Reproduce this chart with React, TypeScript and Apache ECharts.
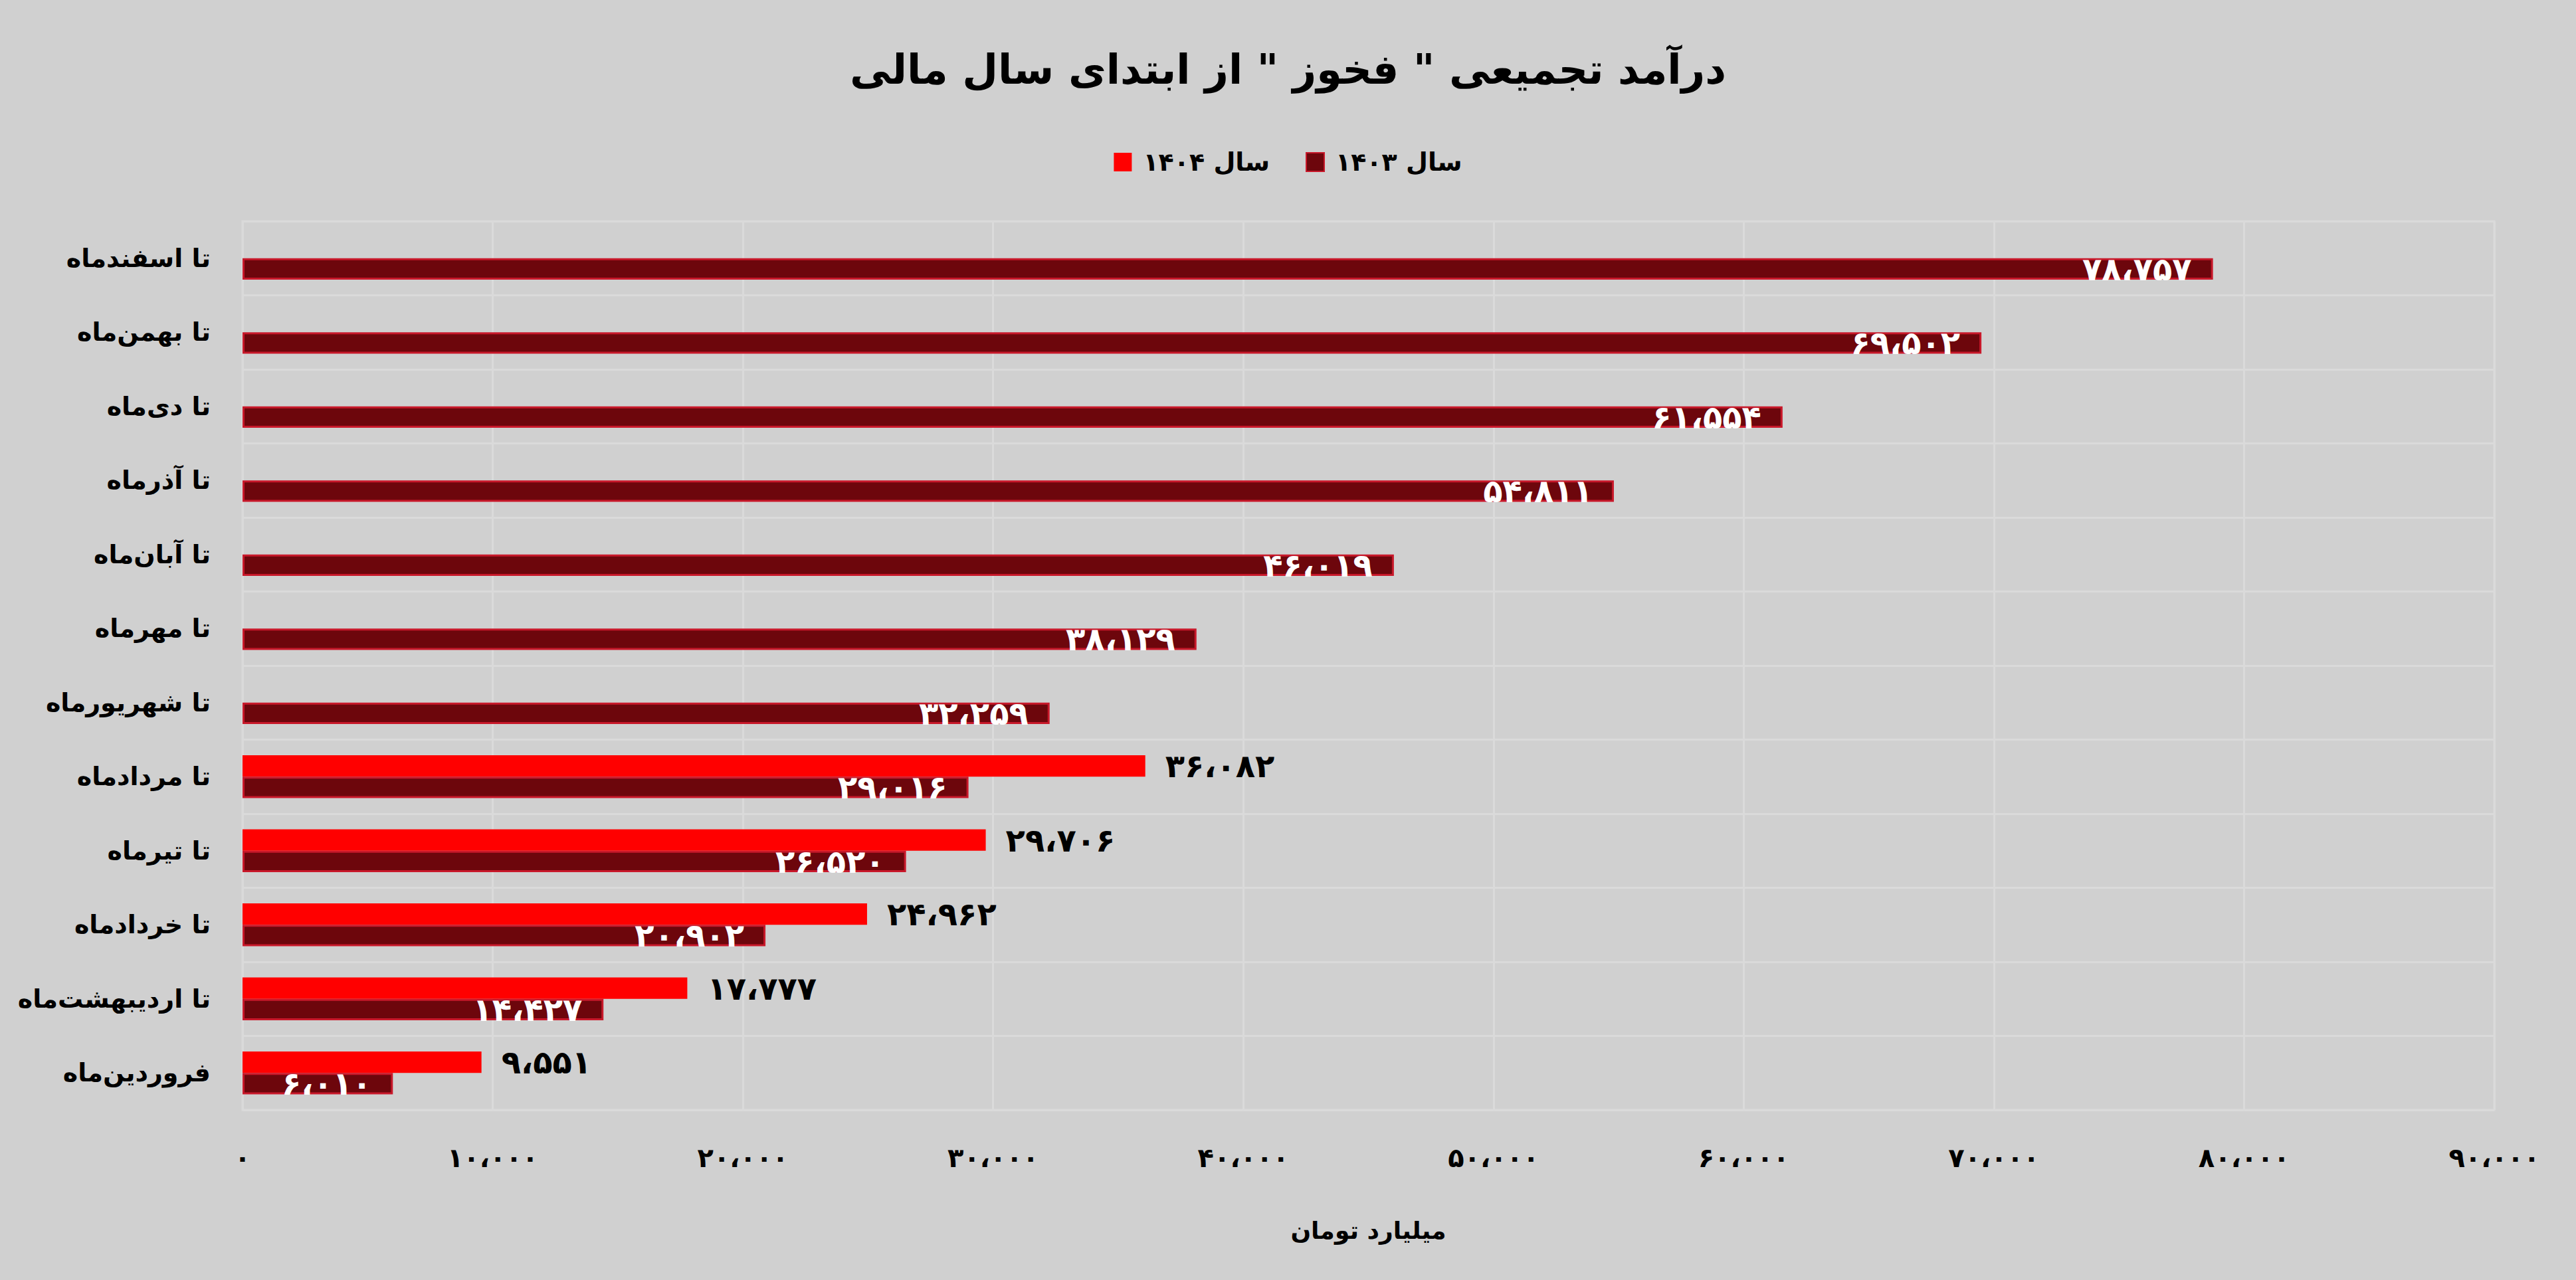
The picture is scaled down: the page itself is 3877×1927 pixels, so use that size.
import React, { useEffect, useRef } from "react";
import * as echarts from "echarts";

const categories = [
  "فروردین‌ماه",
  "تا اردیبهشت‌ماه",
  "تا خردادماه",
  "تا تیرماه",
  "تا مردادماه",
  "تا شهریورماه",
  "تا مهرماه",
  "تا آبان‌ماه",
  "تا آذرماه",
  "تا دی‌ماه",
  "تا بهمن‌ماه",
  "تا اسفندماه",
];
const values1403 = [6010, 14427, 20902, 26520, 29016, 32259, 38129, 46019, 54811, 61554, 69502, 78757];
const values1404 = [9551, 17777, 24962, 29706, 36082, null, null, null, null, null, null, null];
const seriesNames = ["سال ۱۴۰۴", "سال ۱۴۰۳"];
const titleText = 'درآمد تجمیعی " فخوز " از ابتدای سال مالی';
const axisName = "میلیارد تومان";

const FA_DIGITS = "۰۱۲۳۴۵۶۷۸۹";
const toFa = (n: number) =>
  Math.round(n)
    .toLocaleString("en-US")
    .replace(/\d/g, (d) => FA_DIGITS[Number(d)])
    .replace(/,/g, "،");

const FONT = "DejaVu Sans";

export default function App() {
  const ref = useRef<HTMLDivElement>(null);
  useEffect(() => {
    if (!ref.current) return;
    const chart = echarts.init(ref.current, null, { renderer: "svg" });
    chart.setOption({
      animation: false,
      backgroundColor: "#d0d0d0",
      textStyle: { fontFamily: FONT },
      title: {
        text: titleText,
        left: "center",
        top: 68,
        textStyle: { fontFamily: FONT, fontSize: 62, fontWeight: "bold", color: "#000" },
      },
      legend: {
        data: seriesNames,
        left: "center",
        top: 220,
        icon: "rect",
        itemWidth: 27,
        itemHeight: 28,
        itemGap: 54,
        textStyle: { fontFamily: FONT, fontSize: 38, fontWeight: "bold", color: "#000", padding: [0, 0, 0, 12] },
      },
      grid: { left: 365, right: 123, top: 333, bottom: 256, show: true, borderColor: "#dadada", borderWidth: 3 },
      xAxis: {
        type: "value",
        min: 0,
        max: 90000,
        interval: 10000,
        name: axisName,
        nameLocation: "middle",
        nameGap: 163,
        nameTextStyle: { fontFamily: FONT, fontSize: 36, fontWeight: "bold", color: "#000" },
        axisLine: { show: false },
        axisTick: { show: false },
        axisLabel: { formatter: (v: number) => toFa(v), fontFamily: FONT, fontSize: 40, fontWeight: "bold", color: "#000", margin: 52 },
        splitLine: { show: true, lineStyle: { color: "#dadada", width: 3 } },
      },
      yAxis: {
        type: "category",
        data: categories,
        axisLine: { show: false },
        axisTick: { show: false },
        axisLabel: { fontFamily: FONT, fontSize: 38, fontWeight: "bold", color: "#000", margin: 48 },
        splitLine: { show: true, lineStyle: { color: "#dadada", width: 3 } },
      },
      series: [
        {
          name: seriesNames[0],
          type: "bar",
          data: values1404,
          barGap: "0%",
          barCategoryGap: "42%",
          itemStyle: { color: "#ff0000" },
          label: {
            show: true,
            position: "right",
            distance: 30,
            formatter: (p: any) => toFa(p.value),
            fontFamily: FONT,
            fontSize: 48,
            fontWeight: "bold",
            color: "#000",
          },
        },
        {
          name: seriesNames[1],
          type: "bar",
          data: values1403,
          barGap: "0%",
          barCategoryGap: "42%",
          itemStyle: { color: "#6d060c", borderColor: "#c8182a", borderWidth: 3 },
          label: {
            show: true,
            position: "insideRight",
            distance: 32,
            formatter: (p: any) => toFa(p.value),
            fontFamily: FONT,
            fontSize: 48,
            fontWeight: "bold",
            color: "#fff",
          },
        },
      ],
    });
    return () => chart.dispose();
  }, []);
  return (
    <div
      ref={ref}
      style={{ position: "fixed", left: 0, top: 0, width: 3877, height: 1927 }}
    />
  );
}
